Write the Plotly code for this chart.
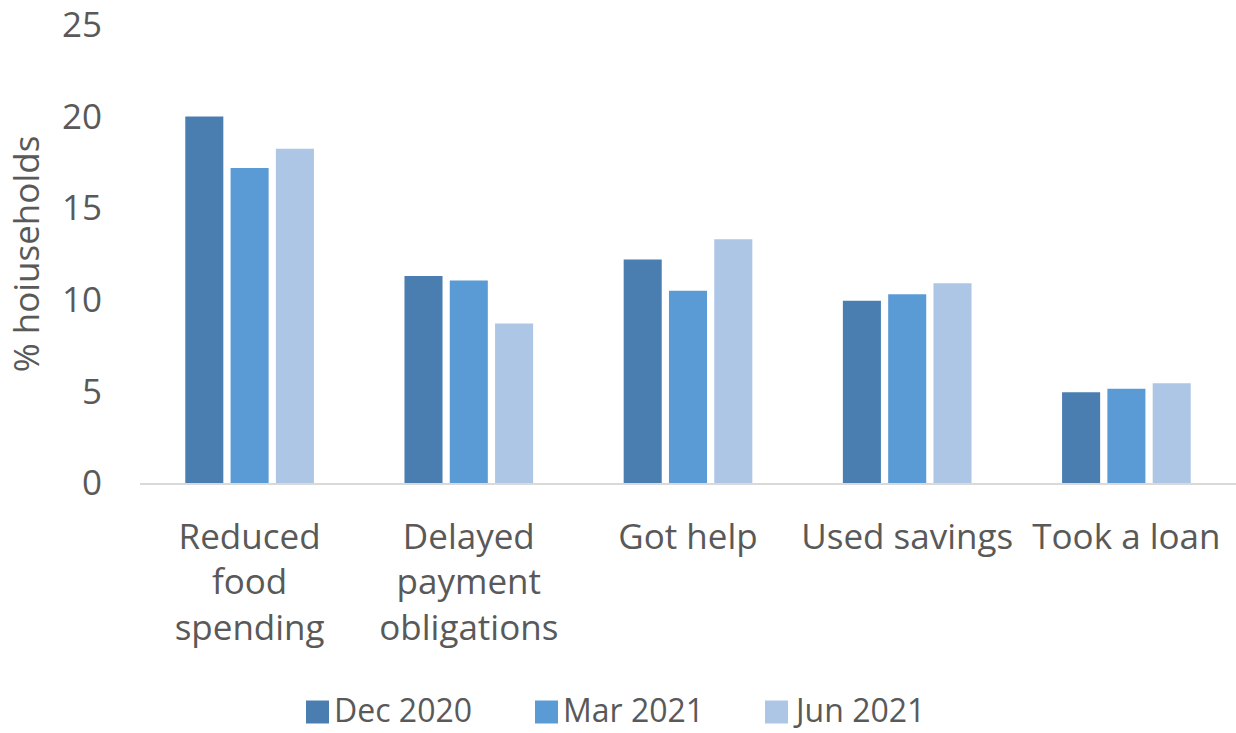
import plotly.graph_objects as go

# Household coping strategies, % of households per survey round
categories = ["Reduced<br>food<br>spending", "Delayed<br>payment<br>obligations",
              "Got help", "Used savings", "Took a loan"]
dec_2020 = [20.0, 11.3, 12.2, 9.95, 4.95]
mar_2021 = [17.2, 11.05, 10.5, 10.3, 5.15]
jun_2021 = [18.25, 8.7, 13.3, 10.9, 5.45]
series_names = ["Dec 2020", "Mar 2021", "Jun 2021"]
y_ticks = [0, 5, 10, 15, 20, 25]

colors = ["#4a7eb0", "#5b9bd5", "#adc6e5"]
font_family = "'Open Sans', 'Noto Sans', sans-serif"
text_color = "#595959"
fsize = 35
legend_fsize = 32

W, H = 1236, 733
M_L, M_R, M_T, M_B = 140, 0, 23, 250
plot_w = W - M_L - M_R
plot_h = H - M_T - M_B


def px_to_paper_x(px):
    return (px - M_L) / plot_w


def px_to_paper_y(py):
    return (H - M_B - py) / plot_h


fig = go.Figure()
for name, vals, col in zip(series_names, [dec_2020, mar_2021, jun_2021], colors):
    fig.add_trace(go.Bar(
        x=categories, y=vals, name=name, showlegend=False,
        marker=dict(color=col, line=dict(width=0)),
    ))

# legend row below the chart: square swatch followed by the series name
legend_left = [306, 535, 765]
legend_mid_y = 710
swatch = 23
for name, col, left in zip(series_names, colors, legend_left):
    fig.add_shape(
        type="rect", xref="paper", yref="paper",
        xsizemode="pixel", ysizemode="pixel",
        xanchor=px_to_paper_x(left), yanchor=px_to_paper_y(legend_mid_y + 3),
        x0=0, x1=swatch, y0=-swatch / 2, y1=swatch / 2,
        fillcolor=col, line=dict(width=0),
    )
    fig.add_annotation(
        xref="paper", yref="paper",
        x=px_to_paper_x(left + swatch + 4), y=px_to_paper_y(legend_mid_y),
        xanchor="left", yanchor="middle", showarrow=False,
        borderpad=0,
        text=name, font=dict(size=legend_fsize, color=text_color, family=font_family),
    )

fig.update_layout(
    width=W, height=H,
    margin=dict(l=M_L, r=M_R, t=M_T, b=M_B),
    paper_bgcolor="white", plot_bgcolor="white",
    barmode="group", bargap=0.38, bargroupgap=0.16,
    font=dict(family=font_family, size=fsize, color=text_color),
    showlegend=False,
    xaxis=dict(
        showline=True, linecolor="#d9d9d9", linewidth=1.5,
        ticks="", ticklabelstandoff=22,
        tickfont=dict(size=fsize, color=text_color),
        showgrid=False, fixedrange=True,
    ),
    yaxis=dict(
        range=[0, 25], tickvals=y_ticks, showgrid=False, zeroline=False,
        showline=False, ticks="", ticklabelstandoff=37,
        ticklabeloverflow="allow",
        tickfont=dict(size=fsize, color=text_color),
        title=dict(text="% hoiuseholds", standoff=11,
                   font=dict(size=fsize, color=text_color)),
    ),
)

fig.write_html("out.html")
